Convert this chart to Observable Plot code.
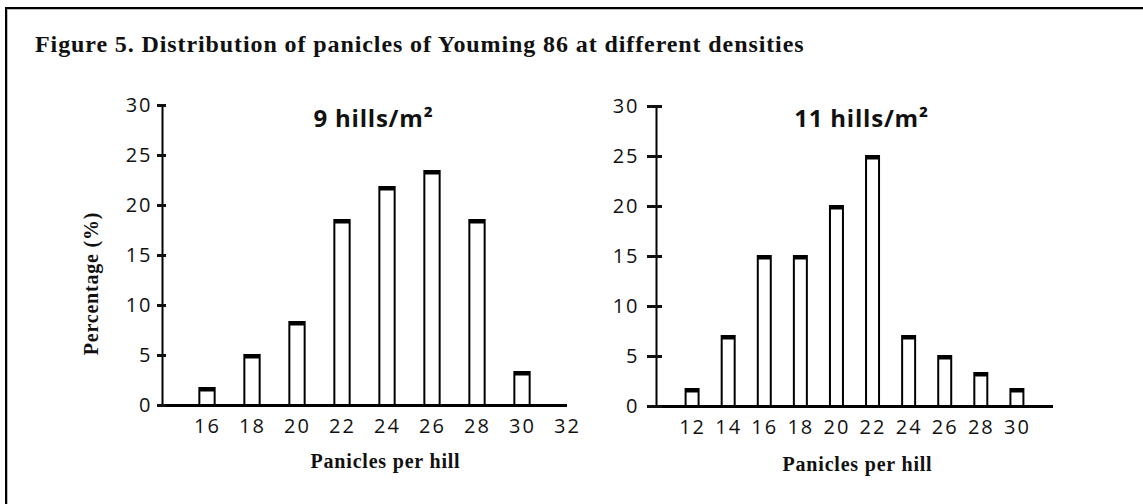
<!DOCTYPE html>
<html>
<head>
<meta charset="utf-8">
<script src="https://cdn.jsdelivr.net/npm/d3@7"></script>
<script src="https://cdn.jsdelivr.net/npm/@observablehq/plot@0.6"></script>
<style>
  html, body { margin: 0; padding: 0; background: #fff; overflow: hidden; }
  #page { position: relative; width: 1143px; height: 504px; overflow: hidden; background: #fff; }
  #frame { position: absolute; left: 5px; top: 7px; width: 1400px; height: 800px;
           border-top: 2px solid #000; border-left: 2px solid #000;
           box-shadow: inset 1px 1px 0 #bbb; }
  #title { position: absolute; left: 35px; top: 32px; font-family: "Liberation Serif", serif;
           font-weight: bold; font-size: 24px; line-height: 24px; letter-spacing: 0.9px;
           white-space: nowrap; color: #111; }
  .panel { position: absolute; top: 0; }
</style>
</head>
<body>
<div id="page">
  <div id="frame"></div>
  <div id="title">Figure 5. Distribution of panicles of Youming 86 at different densities</div>
  <div id="left" class="panel" style="left:0px"></div>
  <div id="right" class="panel" style="left:572px"></div>
</div>
<script>
// ---- data ----
const leftTitle = "9 hills/m²";
const leftX = [16, 18, 20, 22, 24, 26, 28, 30];
const leftPct = [1.7, 5.0, 8.3, 18.5, 21.8, 23.4, 18.5, 3.3];
const leftTicks = [16, 18, 20, 22, 24, 26, 28, 30, 32];

const rightTitle = "11 hills/m²";
const rightX = [12, 14, 16, 18, 20, 22, 24, 26, 28, 30];
const rightPct = [1.7, 7, 15, 15, 20, 25, 7, 5, 3.3, 1.7];
const rightTicks = [12, 14, 16, 18, 20, 22, 24, 26, 28, 30];

const yTicks = [0, 5, 10, 15, 20, 25, 30];
const xLabel = "Panicles per hill";
const yLabel = "Percentage (%)";

// ---- drawing ----
function panel(cfg) {
  const data = cfg.xs.map((x, i) => ({x, p: cfg.ps[i]}));
  const hw = cfg.halfWidth;
  const marks = [
    Plot.rect(data, {x1: d => d.x - hw, x2: d => d.x + hw, y1: 0, y2: "p",
      fill: "white", stroke: "black", strokeWidth: 2}),
    Plot.ruleY(data, {y: "p", x1: d => d.x - hw, x2: d => d.x + hw, stroke: "black", strokeWidth: 4, dy: 1}),
    Plot.ruleX([cfg.xDomain[0]], {y1: 0, y2: 30, stroke: "black", strokeWidth: 2}),
    Plot.ruleY([0], {stroke: "black", strokeWidth: 3}),
    Plot.axisY({ticks: yTicks, tickSize: cfg.tickSize, dx: cfg.tickDx, strokeWidth: 3, fill: "none", label: null}),
    Plot.axisY({ticks: yTicks, tickSize: 0, tickPadding: cfg.yPad, fontSize: 20, fontFamily: "Open Sans", label: null}),
    Plot.axisX({ticks: cfg.ticks, tickSize: 0, tickPadding: 13, fontSize: 20, fontFamily: "Open Sans", label: null, tickFormat: d => String(d)}),
    Plot.text([cfg.title], {frameAnchor: "top", dx: 11, dy: cfg.titleDy, fontSize: 24, fontWeight: "bold", fontFamily: "Open Sans"}),
    Plot.text([xLabel], {frameAnchor: "bottom", dx: cfg.xLabelDx, dy: cfg.xLabelDy, fontSize: 20, fontWeight: "bold", fontFamily: "Liberation Serif"})
  ];
  if (cfg.yLabel) {
    marks.push(Plot.text([cfg.yLabel], {frameAnchor: "left", textAnchor: "middle", rotate: -90, dx: -66, dy: 28, fontSize: 20, fontWeight: "bold", fontFamily: "Liberation Serif"}));
  }
  const svg = Plot.plot({
    width: cfg.width, height: 504,
    marginLeft: cfg.marginLeft, marginRight: cfg.marginRight,
    marginTop: cfg.marginTop, marginBottom: cfg.marginBottom,
    x: {domain: cfg.xDomain, range: cfg.xRange},
    y: {domain: [0, 30], range: cfg.yRange},
    style: {background: "transparent", color: "#111", overflow: "visible"},
    marks
  });
  const s = d3.select(svg);
  s.selectAll('g[aria-label$="tick label"] text').style("letter-spacing", "2px");
  s.selectAll('g[aria-label="text"] text').style("letter-spacing", "0.8px");
  return svg;
}

document.getElementById("left").append(panel({
  xs: leftX, ps: leftPct, ticks: leftTicks, title: leftTitle, yLabel: yLabel,
  width: 572, marginLeft: 157, marginRight: 5, marginTop: 105, marginBottom: 99,
  xDomain: [14, 32], xRange: [162, 567], yRange: [405, 105],
  halfWidth: 0.34, tickSize: 9, tickDx: 9, yPad: 5,
  titleDy: 4, xLabelDx: 23, xLabelDy: 62
}));

document.getElementById("right").append(panel({
  xs: rightX, ps: rightPct, ticks: rightTicks, title: rightTitle, yLabel: null,
  width: 571, marginLeft: 75, marginRight: 90, marginTop: 106, marginBottom: 98,
  xDomain: [10, 32], xRange: [84, 481], yRange: [406, 106],
  halfWidth: 0.36, tickSize: 15, tickDx: 15, yPad: 8,
  titleDy: 3, xLabelDx: 7, xLabelDy: 64
}));
</script>
</body>
</html>
